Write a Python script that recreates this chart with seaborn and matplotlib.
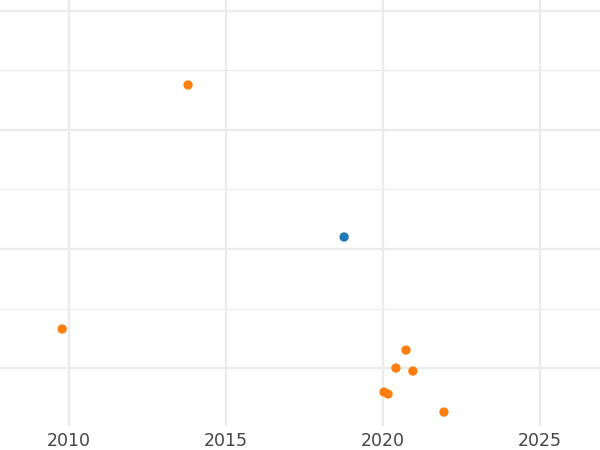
import matplotlib
matplotlib.use("Agg")
import matplotlib.pyplot as plt
from matplotlib.ticker import MultipleLocator
import seaborn as sns
import pandas as pd

# values (y axis has no labels, arbitrary units)
years = [2013.79, 2018.76, 2009.78, 2020.73, 2020.41, 2020.95, 2020.03, 2020.16, 2021.94]
values = [3.378, 2.101, 1.328, 1.151, 1.000, 0.975, 0.798, 0.782, 0.630]
groups = ["other", "highlight", "other", "other", "other", "other", "other", "other", "other"]
palette = {"highlight": "#1f77b4", "other": "#ff7f0e"}

df = pd.DataFrame({"year": years, "value": values, "group": groups})

sns.set_theme(style="whitegrid")

fig = plt.figure(figsize=(6, 4.5), dpi=100)
ax = fig.add_axes([0, 0.0533, 1, 0.9467])

sns.scatterplot(data=df, x="year", y="value", hue="group", palette=palette,
                s=45, edgecolor="none", legend=False, ax=ax)

ax.set_xlim(2007.8, 2026.91)
ax.set_ylim(0.513, 4.092)
ax.xaxis.set_major_locator(MultipleLocator(5))
ax.yaxis.set_major_locator(MultipleLocator(1))
ax.yaxis.set_minor_locator(MultipleLocator(0.5))

ax.grid(True, which="major", color="#ebebeb", linewidth=1.6)
ax.grid(True, which="minor", axis="y", color="#ebebeb", linewidth=0.9)
ax.set_axisbelow(True)
for sp in ax.spines.values():
    sp.set_visible(False)

ax.set_xlabel("")
ax.set_ylabel("")
ax.set_yticklabels([])
ax.tick_params(axis="both", which="both", length=0)
ax.tick_params(axis="x", labelsize=12.5, labelcolor="#444444", pad=4)

fig.savefig("out.png", dpi=100)
plt.close(fig)
